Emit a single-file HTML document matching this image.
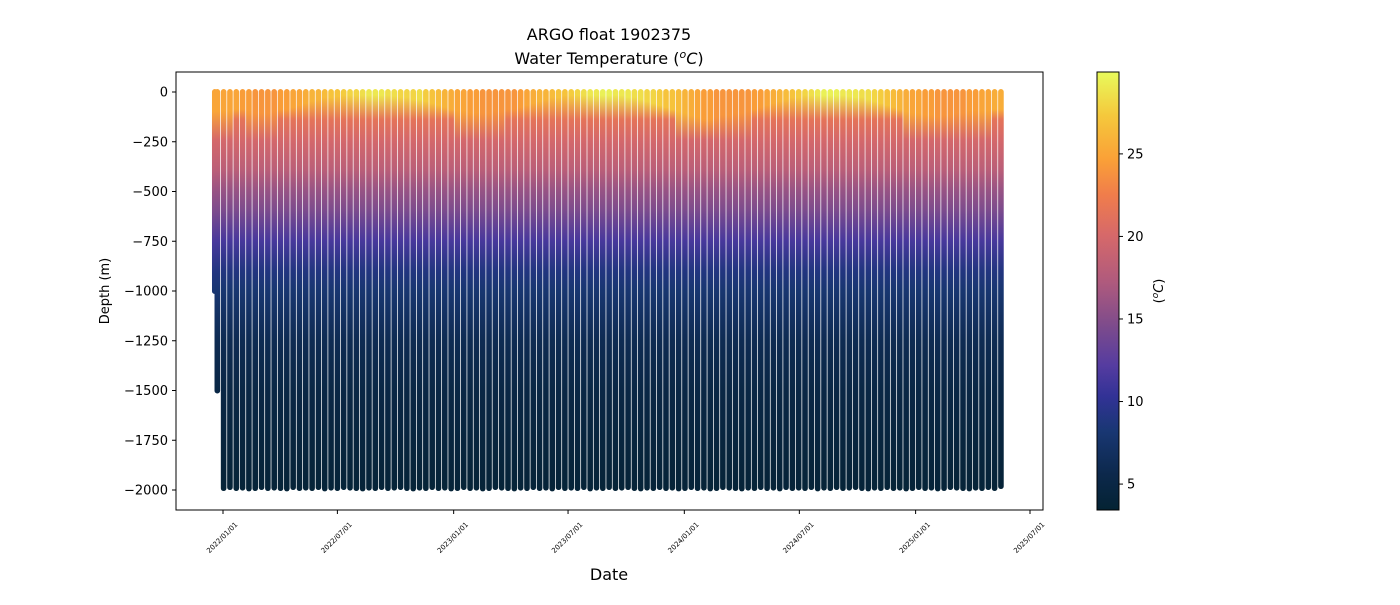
<!DOCTYPE html>
<html><head><meta charset="utf-8"><style>
body{margin:0;background:#fff;}
svg text{font-family:"DejaVu Sans","Liberation Sans",sans-serif;fill:#000;}
</style></head><body>
<svg id="chart" width="1400" height="600" xmlns="http://www.w3.org/2000/svg">
<defs id="defs"></defs>
<text x="609" y="40" font-size="16" text-anchor="middle">ARGO float 1902375</text>
<text x="609" y="64" font-size="16" text-anchor="middle">Water Temperature (<tspan font-style="italic" font-size="11" dy="-6">o</tspan><tspan font-style="italic" dy="6">C</tspan>)</text>
<g id="plot"></g>
<rect x="176" y="72" width="867" height="438" fill="none" stroke="#000" stroke-width="1"/>
<g id="yaxis"></g>
<g id="xaxis"></g>
<text x="109" y="291" font-size="13" text-anchor="middle" transform="rotate(-90 109 291)">Depth (m)</text>
<text x="609" y="580" font-size="16" text-anchor="middle">Date</text>
<g id="cbar"></g>
<text x="1163" y="291" font-size="13" text-anchor="middle" transform="rotate(-90 1163 291)">(<tspan font-style="italic" font-size="9" dy="-5">o</tspan><tspan font-style="italic" dy="5">C</tspan>)</text>
</svg>
<script>
const NS="http://www.w3.org/2000/svg";
// profile dates: days since 2022-01-01
const profileDays=[-13,-9];
for(let k=0;k<124;k++){profileDays.push(1+10*k);}
const maxDepths=[1000,1500,1990,1985,1990,1988,1992,1990,1985,1990,1988,1990,1992,1985,1990,1988,1990,1985,1992,1988,1990,1985,1988,1990,1992,1988,1990,1985,1990,1988,1985,1990,1992,1988,1990,1985,1990,1988,1992,1990,1985,1990,1988,1992,1990,1985,1988,1990,1992,1988,1990,1985,1990,1988,1992,1985,1990,1988,1990,1985,1992,1988,1990,1985,1990,1988,1985,1990,1992,1988,1990,1985,1990,1988,1992,1990,1985,1990,1988,1992,1990,1985,1988,1990,1992,1988,1990,1985,1990,1988,1992,1985,1990,1988,1990,1985,1992,1988,1990,1985,1990,1988,1985,1990,1992,1988,1990,1985,1990,1988,1992,1990,1985,1990,1988,1992,1990,1985,1988,1990,1992,1988,1990,1985,1990,1980];
const sst=[25,25,
25,25,25,24.5,24.5,24,24,24,24,24.5,
24.5,25,25,25.5,26,26,26.5,27,27,27.5,
28,28,28.5,29,29,29,28.5,28.5,28,28,
28,28.5,27.5,27,26.5,26,25.5,25,25,24.5,
24.5,24,24,24,24,24,24,24.5,25,25.5,
26,26,26.5,27,27,27.5,28,28.5,29,29,
29.5,29.5,29,29,29,28.5,28.5,28,28,27.5,
27,27,26.5,26,25.5,25,24.5,24.5,24,24,
24,24,24,24,24.5,24.5,25,25.5,26,26.5,
27,27.5,28,28.5,29,29.5,29.5,29.5,29,29,
29,28.5,28.5,28,27.5,27,26.5,26,25.5,25,
25,24.5,24.5,24,24,24,24,24,24.5,24.5,
25,25,25.5,25.5];
const mld=[110,110,
110,110,100,100,110,120,120,120,110,100,
100,90,80,70,60,50,40,40,35,30,
30,30,30,30,30,30,30,35,40,40,
50,50,60,70,80,90,100,110,110,120,
120,120,120,110,110,100,100,90,80,70,
60,50,40,40,30,30,30,30,30,30,
30,30,30,30,40,40,50,60,70,80,
90,100,110,120,130,140,150,150,140,130,
130,120,120,110,100,90,80,70,60,50,
40,40,30,30,30,30,30,30,30,35,
40,40,50,60,70,80,90,100,110,120,
120,130,130,140,130,130,120,120,110,110,
110,110,100,100];
const baseDepth=[150,250,400,500,600,750,900,1000,1250,1500,1750,2000];
const baseTemp=[21.5,20,18,16,14.5,11.5,9,8,6,5,4.4,3.9];
const yTicks=[0,-250,-500,-750,-1000,-1250,-1500,-1750,-2000];
const xTickDays=[0,181,365,546,730,912,1096,1277];
const xTickLabels=["2022/01/01","2022/07/01","2023/01/01","2023/07/01","2024/01/01","2024/07/01","2025/01/01","2025/07/01"];
const cbTicks=[5,10,15,20,25];
const cmin=3.43,cmax=29.96;
const cmapPos=[0,0.08,0.18,0.26,0.33,0.42,0.52,0.63,0.72,0.8,0.9,1];
const cmapCol=[[4,35,51],[12,40,75],[25,55,115],[50,50,150],[85,60,160],[125,75,140],[175,90,125],[215,105,105],[240,125,75],[250,160,55],[245,200,60],[232,250,91]];
function color(t){let v=(t-cmin)/(cmax-cmin);v=Math.max(0,Math.min(1,v));let i=0;while(i<cmapPos.length-2&&v>cmapPos[i+1])i++;const f=(v-cmapPos[i])/(cmapPos[i+1]-cmapPos[i]);const c=cmapCol[i].map((a,j)=>Math.round(a+(cmapCol[i+1][j]-a)*f));return `rgb(${c[0]},${c[1]},${c[2]})`;}
const xS=d=>223+d*(1030-223)/1277;
const yS=z=>92+(-z)*(490-92)/2000;
const defs=document.getElementById('defs'),plot=document.getElementById('plot');
profileDays.forEach((d,i)=>{
  const md=maxDepths[i];
  const g=document.createElementNS(NS,'linearGradient');
  g.setAttribute('id','g'+i);g.setAttribute('x1','0');g.setAttribute('y1','0');g.setAttribute('x2','0');g.setAttribute('y2','1');
  const stops=[[0,sst[i]],[mld[i],sst[i]]];
  baseDepth.forEach((bd,j)=>{if(bd>mld[i]+40)stops.push([bd,Math.min(baseTemp[j],sst[i])]);});
  stops.forEach(s=>{const st=document.createElementNS(NS,'stop');st.setAttribute('offset',Math.min(1,s[0]/md));st.setAttribute('stop-color',color(s[1]));g.appendChild(st);});
  defs.appendChild(g);
  const r=document.createElementNS(NS,'rect');
  
  
  const y0=yS(0)-3,y1=yS(-md)+3;
  r.setAttribute('x',xS(d)-2.8);r.setAttribute('width',5.6);r.setAttribute('y',y0);r.setAttribute('height',y1-y0);r.setAttribute('rx',2.8);
  r.setAttribute('fill','url(#g'+i+')');
  plot.appendChild(r);
});
const ya=document.getElementById('yaxis');
yTicks.forEach(v=>{const y=yS(v);
  const l=document.createElementNS(NS,'line');l.setAttribute('x1',172);l.setAttribute('x2',176);l.setAttribute('y1',y);l.setAttribute('y2',y);l.setAttribute('stroke','#000');
  
  
  ya.appendChild(l);
  const t=document.createElementNS(NS,'text');t.setAttribute('x',168);t.setAttribute('y',y+4.5);t.setAttribute('font-size','13');t.setAttribute('text-anchor','end');t.textContent=v===0?'0':'\u2212'+(-v);
  
  
  ya.appendChild(t);});
const xa=document.getElementById('xaxis');
xTickDays.forEach((d,i)=>{const x=xS(d);
  const l=document.createElementNS(NS,'line');l.setAttribute('x1',x);l.setAttribute('x2',x);l.setAttribute('y1',510);l.setAttribute('y2',514);l.setAttribute('stroke','#000');
  
  
  xa.appendChild(l);
  const tx=x+15,ty=525;
  const t=document.createElementNS(NS,'text');t.setAttribute('x',tx);t.setAttribute('y',ty);t.setAttribute('font-size','7');t.setAttribute('text-anchor','end');t.setAttribute('transform',`rotate(-45 ${tx} ${ty})`);t.textContent=xTickLabels[i];
  
  
  xa.appendChild(t);});
const cb=document.getElementById('cbar');
const cg=document.createElementNS(NS,'linearGradient');cg.setAttribute('id','cbg');cg.setAttribute('x1','0');cg.setAttribute('y1','1');cg.setAttribute('x2','0');cg.setAttribute('y2','0');
cmapPos.forEach((p,i)=>{const st=document.createElementNS(NS,'stop');st.setAttribute('offset',p);st.setAttribute('stop-color',`rgb(${cmapCol[i]})`);cg.appendChild(st);});
defs.appendChild(cg);
const cr=document.createElementNS(NS,'rect');cr.setAttribute('x',1097);cr.setAttribute('y',72);cr.setAttribute('width',22);cr.setAttribute('height',438);cr.setAttribute('fill','url(#cbg)');cr.setAttribute('stroke','#000');


cb.appendChild(cr);
const cy=v=>510-(v-cmin)/(cmax-cmin)*438;
cbTicks.forEach(v=>{const y=cy(v);
  const l=document.createElementNS(NS,'line');l.setAttribute('x1',1119);l.setAttribute('x2',1123);l.setAttribute('y1',y);l.setAttribute('y2',y);l.setAttribute('stroke','#000');
  
  
  cb.appendChild(l);
  const t=document.createElementNS(NS,'text');t.setAttribute('x',1127);t.setAttribute('y',y+4.5);t.setAttribute('font-size','13');t.textContent=v;
  
  
  cb.appendChild(t);});
</script>
</body></html>
